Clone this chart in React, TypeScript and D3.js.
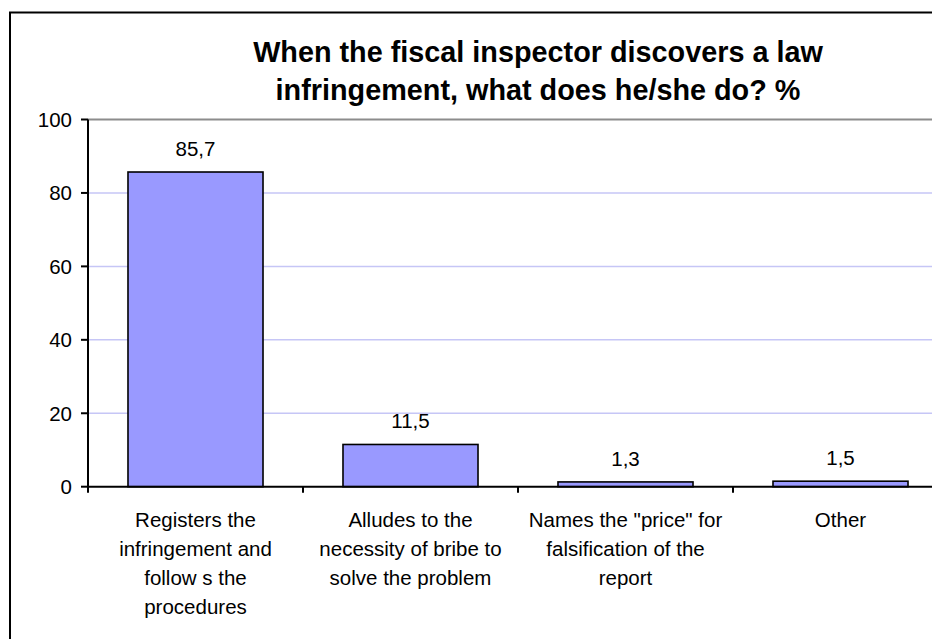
import React from "react";
import * as d3 from "d3";

const categories = [
  "Registers the\ninfringement and\nfollow s the\nprocedures",
  "Alludes to the\nnecessity of bribe to\nsolve the problem",
  "Names the \"price\" for\nfalsification of the\nreport",
  "Other",
];
const values = [85.7, 11.5, 1.3, 1.5];
const valueLabels = ["85,7", "11,5", "1,3", "1,5"];
const yTicks = [0, 20, 40, 60, 80, 100];
const titleLines = [
  "When the fiscal inspector discovers a law",
  "infringement, what does he/she do? %",
];

const W = 932;
const H = 639;
const FONT = "'Liberation Sans', Arial, sans-serif";

export default function App() {
  const x = d3
    .scaleBand<string>()
    .domain(categories)
    .range([88, 948])
    .paddingInner(0.372)
    .paddingOuter(0.186);
  const xTick = d3.scaleBand<string>().domain(categories).range([88, 948]).padding(0);
  const y = d3.scaleLinear().domain([0, 100]).range([486.7, 119.5]);

  return (
    <svg
      width={W}
      height={H}
      style={{ position: "absolute", left: 0, top: 0, background: "#fff" }}
      fontFamily={FONT}
    >
      <rect x={0} y={0} width={W} height={H} fill="#fff" />
      {/* outer chart border (cut off right and bottom) */}
      <rect x={10} y={12.5} width={1100} height={800} fill="none" stroke="#000" strokeWidth={2} />

      {/* title */}
      {titleLines.map((t, i) => (
        <text
          key={i}
          x={538}
          y={61.5 + i * 38.5}
          textAnchor="middle"
          fontSize={28.8}
          fontWeight="bold"
          fill="#000"
        >
          {t}
        </text>
      ))}

      {/* gridlines */}
      {yTicks
        .filter((t) => t > 0 && t < 100)
        .map((t) => (
          <line key={t} x1={88} x2={948} y1={y(t)} y2={y(t)} stroke="#c6c6f6" strokeWidth={1.5} />
        ))}
      <line x1={88} x2={948} y1={y(100)} y2={y(100)} stroke="#8c8c8c" strokeWidth={2} />

      {/* bars */}
      {categories.map((c, i) => (
        <rect
          key={c}
          x={x(c)}
          y={y(values[i])}
          width={x.bandwidth()}
          height={y(0) - y(values[i])}
          fill="#9999ff"
          stroke="#000"
          strokeWidth={1.6}
        />
      ))}

      {/* value labels */}
      {categories.map((c, i) => (
        <text
          key={c}
          x={(x(c) as number) + x.bandwidth() / 2}
          y={y(values[i]) - 16}
          textAnchor="middle"
          fontSize={20.5}
          fill="#000"
        >
          {valueLabels[i]}
        </text>
      ))}

      {/* y axis */}
      <line x1={88} x2={88} y1={y(100)} y2={y(0)} stroke="#000" strokeWidth={2} />
      {yTicks.map((t) => (
        <g key={t}>
          <line x1={81} x2={88} y1={y(t)} y2={y(t)} stroke="#000" strokeWidth={2} />
          <text x={72} y={y(t)} dy="0.36em" textAnchor="end" fontSize={20.5} fill="#000">
            {t}
          </text>
        </g>
      ))}

      {/* x axis */}
      <line x1={88} x2={948} y1={y(0)} y2={y(0)} stroke="#000" strokeWidth={2} />
      {categories.map((c) => (
        <line
          key={c}
          x1={xTick(c)}
          x2={xTick(c)}
          y1={y(0)}
          y2={y(0) + 6}
          stroke="#000"
          strokeWidth={2}
        />
      ))}
      {categories.map((c) => (
        <text
          key={c}
          x={(xTick(c) as number) + xTick.bandwidth() / 2}
          y={527}
          textAnchor="middle"
          fontSize={20.5}
          fill="#000"
        >
          {c.split("\n").map((line, j) => (
            <tspan key={j} x={(xTick(c) as number) + xTick.bandwidth() / 2} dy={j === 0 ? 0 : 29}>
              {line}
            </tspan>
          ))}
        </text>
      ))}
    </svg>
  );
}
